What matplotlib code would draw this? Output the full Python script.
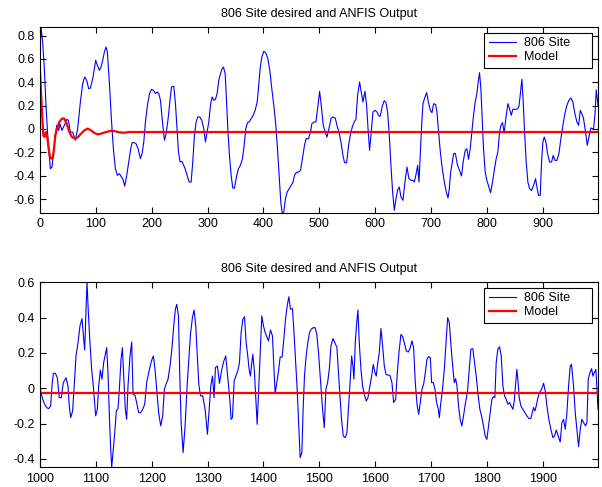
import numpy as np
import matplotlib
matplotlib.use("Agg")
import matplotlib.pyplot as plt

plt.rcParams['font.family'] = ['Liberation Sans', 'DejaVu Sans']
plt.rcParams['axes.unicode_minus'] = False

TITLE = "806 Site desired and ANFIS Output"
LABELS = ["806 Site", "Model"]

# measured series, samples 0..999 (top) and 1000..1999 (bottom)
site_top = [
    (0, 0.65), (1.8, 0.877), (4.8, 0.745), (7.8, 0.517), (10.8, 0.20), (13.8, -0.05),
    (16.7, -0.226), (18.5, -0.34), (21.5, -0.327), (23.9, -0.21), (26.9, -0.083),
    (29.9, 0.031), (33.5, -0.012), (35.8, 0.045), (39.4, -0.012), (43.6, 0.031),
    (48.4, 0.083), (50.8, 0.074), (54.4, -0.026), (58.5, -0.026), (63.3, -0.097),
    (67.5, 0.003), (72.3, 0.231), (76.5, 0.388), (80.0, 0.445), (83.6, 0.417),
    (87.2, 0.345), (90.2, 0.351), (94.4, 0.431), (97.4, 0.517), (99.8, 0.588),
    (102.7, 0.545), (106.3, 0.503), (109.3, 0.531), (112.3, 0.588), (115.3, 0.660),
    (118.3, 0.703), (120.6, 0.660), (124.2, 0.403), (127.8, 0.089), (131.4, -0.169),
    (135.0, -0.340), (138.6, -0.397), (142.2, -0.383), (145.8, -0.411), (148.2, -0.426),
    (151.7, -0.489), (155.3, -0.397), (158.9, -0.283), (162.5, -0.169), (164.9, -0.117),
    (168.4, -0.117), (172.0, -0.126), (175.6, -0.169), (179.8, -0.254), (182.8, -0.211),
    (185.8, -0.111), (188.8, 0.060), (192.4, 0.203), (196.0, 0.303), (199.6, 0.340),
    (203.1, 0.331), (206.7, 0.303), (209.7, 0.317), (212.7, 0.303), (215.7, 0.246),
    (218.7, 0.089), (222.8, -0.097), (225.8, -0.040), (229.4, 0.089), (232.4, 0.231),
    (235.4, 0.360), (239.5, 0.366), (242.5, 0.22), (245.0, 0.03), (247.9, -0.197),
    (250.9, -0.283), (253.8, -0.277), (256.8, -0.306), (259.8, -0.340), (263.4, -0.397),
    (267.0, -0.454), (270.6, -0.454), (273.5, -0.283), (276.5, -0.054), (279.5, 0.060),
    (282.5, 0.103), (286.1, 0.103), (289.7, 0.074), (293.2, 0.003), (296.2, -0.111),
    (299.2, -0.026), (302.2, 0.060), (305.2, 0.203), (308.2, 0.274), (311.2, 0.246),
    (314.1, 0.254), (317.1, 0.303), (320.1, 0.417), (323.1, 0.474), (326.1, 0.517),
    (328.5, 0.531), (331.5, 0.474), (333.8, 0.260), (336.2, 0.003), (339.2, -0.226),
    (342.2, -0.397), (345.2, -0.506), (348.2, -0.506), (351.7, -0.411), (355.3, -0.340),
    (358.9, -0.311), (362.5, -0.254), (365.5, -0.140), (368.5, 0.003), (371.5, 0.054),
    (374.4, 0.060), (378.0, 0.089), (381.6, 0.117), (385.2, 0.160), (388.8, 0.231),
    (391.1, 0.345), (394.1, 0.517), (397.1, 0.617), (400.7, 0.665), (404.3, 0.651),
    (407.9, 0.603), (411.4, 0.503), (415.0, 0.345), (418.6, 0.203), (422.2, 0.031),
    (425.2, -0.169), (428.2, -0.397), (431.1, -0.626), (433.5, -0.717), (436.5, -0.711),
    (439.5, -0.597), (442.5, -0.540), (446.1, -0.511), (449.7, -0.483), (453.2, -0.454),
    (455.6, -0.397), (458.6, -0.374), (462.8, -0.369), (466.4, -0.354), (469.9, -0.254),
    (473.5, -0.140), (476.5, -0.083), (480.7, -0.083), (484.3, -0.026), (486.7, 0.045),
    (490.8, 0.060), (494.0, 0.060), (497.0, 0.174), (500.6, 0.323), (503.5, 0.203),
    (507.1, 0.031), (510.7, -0.026), (513.7, -0.069), (517.3, 0.003), (520.9, 0.089),
    (524.4, 0.103), (528.6, 0.094), (531.6, 0.031), (535.2, -0.026), (538.8, -0.111),
    (542.3, -0.226), (545.3, -0.289), (548.9, -0.289), (552.5, -0.140), (555.5, -0.054),
    (559.1, 0.017), (562.6, 0.060), (565.6, 0.083), (568.6, 0.289), (572.2, 0.403),
    (574.6, 0.331), (578.2, 0.231), (581.7, 0.323), (584.7, 0.203), (587.7, -0.026),
    (590.1, -0.183), (592.5, -0.054), (596.1, 0.146), (599.7, 0.160), (603.2, 0.146),
    (606.8, 0.111), (609.2, 0.111), (612.8, 0.197), (616.4, 0.243), (619.4, 0.226),
    (622.3, 0.146), (625.3, -0.054), (628.3, -0.311), (631.3, -0.540), (634.3, -0.697),
    (637.3, -0.597), (640.2, -0.526), (643.2, -0.497), (646.2, -0.583), (649.8, -0.611),
    (653.4, -0.454), (657.0, -0.326), (660.5, -0.426), (664.1, -0.440), (667.7, -0.440),
    (670.1, -0.454), (673.1, -0.391), (676.1, -0.311), (678.5, -0.454), (680.8, -0.226),
    (683.2, 0.031), (685.6, 0.217), (689.2, 0.274), (692.2, 0.311), (695.2, 0.231),
    (698.8, 0.160), (701.7, 0.140), (704.7, 0.217), (708.3, 0.209), (710.7, 0.146),
    (713.1, 0.003), (716.7, -0.197), (720.2, -0.340), (723.8, -0.454), (727.4, -0.540),
    (730.4, -0.591), (732.8, -0.511), (735.2, -0.369), (738.2, -0.283), (740.5, -0.211),
    (743.7, -0.211), (747.5, -0.311), (751.0, -0.354), (754.6, -0.403), (757.6, -0.283),
    (761.2, -0.183), (764.2, -0.169), (767.2, -0.260), (770.2, -0.169), (773.1, -0.026),
    (776.1, 0.117), (779.1, 0.231), (782.1, 0.303), (784.5, 0.403), (786.9, 0.483),
    (789.3, 0.345), (791.6, 0.089), (794.0, -0.169), (797.0, -0.369), (800.0, -0.440),
    (803.6, -0.497), (806.6, -0.546), (810.2, -0.454), (813.7, -0.340), (816.7, -0.254),
    (819.7, -0.197), (822.7, -0.026), (825.1, 0.031), (828.1, 0.054), (831.0, -0.034),
    (834.0, 0.089), (837.6, 0.217), (840.6, 0.174), (843.6, 0.117), (846.6, 0.169),
    (850.1, 0.169), (853.7, 0.169), (857.3, 0.189), (859.7, 0.289), (862.7, 0.426),
    (865.1, 0.231), (867.5, -0.026), (870.4, -0.283), (873.4, -0.454), (876.4, -0.511),
    (880.0, -0.526), (883.6, -0.483), (887.2, -0.426), (890.1, -0.511), (892.5, -0.569),
    (895.5, -0.569), (897.9, -0.283), (900.3, -0.111), (902.7, -0.069), (905.7, -0.111),
    (908.7, -0.211), (912.2, -0.283), (915.8, -0.283), (918.8, -0.226), (921.8, -0.269),
    (925.4, -0.269), (929.0, -0.211), (932.5, -0.083), (936.1, 0.031), (939.7, 0.131),
    (943.3, 0.203), (946.9, 0.246), (950.4, 0.266), (954.0, 0.231), (957.6, 0.131),
    (961.2, 0.060), (964.2, 0.031), (967.2, 0.160), (970.1, 0.131), (973.1, 0.089),
    (976.7, -0.026), (979.7, -0.140), (982.7, -0.069), (986.3, 0.009), (988.6, 0.003),
    (991.0, 0.003), (993.4, 0.117), (995.8, 0.335), (998.2, 0.231), (999.0, 0.20),
]

model_top = [
    (0, 0.503), (3.0, 0.20), (6.0, -0.054), (8.4, -0.069), (10.8, -0.026), (13.1, -0.069),
    (15.5, -0.169), (17.9, -0.24), (20.3, -0.254), (22.7, -0.254), (25.1, -0.169),
    (27.5, -0.054), (30.5, 0.003), (34.6, 0.060), (39.4, 0.089), (43.6, 0.089),
    (47.8, 0.045), (52.6, -0.026), (57.3, -0.069), (63.3, -0.083), (68.1, -0.069),
    (73.5, -0.040), (79.4, -0.012), (85.4, 0.003), (91.4, -0.012), (97.4, -0.034),
    (103.3, -0.046), (109.3, -0.040), (118.3, -0.026), (127.2, -0.015), (133.2, -0.018),
    (142.2, -0.029), (151.1, -0.032), (160.1, -0.026), (172.0, -0.026), (999.0, -0.026),
]

site_bot = [
    (1000, 0.08), (1001.2, -0.015), (1004.8, -0.062), (1008.4, -0.09), (1012.0, -0.110),
    (1015.5, -0.115), (1019.1, -0.10), (1021.5, 0.013), (1023.9, 0.085), (1027.5, 0.085),
    (1031.0, 0.06), (1034.6, -0.053), (1038.2, -0.053), (1041.8, 0.032), (1046.6, 0.06),
    (1050.1, 0.013), (1052.5, -0.10), (1054.9, -0.166), (1058.5, -0.128), (1061.5, 0.032),
    (1064.5, 0.183), (1068.1, 0.258), (1071.6, 0.353), (1075.2, 0.394), (1077.6, 0.305),
    (1080.0, 0.217), (1082.4, 0.447), (1084.2, 0.603), (1086.6, 0.428), (1089.5, 0.258),
    (1092.5, 0.107), (1095.5, 0.013), (1097.3, -0.062), (1099.7, -0.156), (1102.7, -0.119),
    (1105.1, 0.013), (1108.1, 0.103), (1111.0, 0.051), (1114.0, 0.145), (1117.0, 0.192),
    (1119.4, 0.230), (1121.8, 0.088), (1124.2, -0.156), (1126.6, -0.345), (1128.4, -0.447),
    (1131.3, -0.345), (1134.3, -0.232), (1136.7, -0.128), (1139.7, -0.115), (1142.1, -0.006),
    (1145.1, 0.164), (1147.5, 0.230), (1150.4, 0.032), (1152.8, -0.119), (1155.2, -0.176),
    (1157.6, 0.013), (1161.2, 0.183), (1164.2, 0.262), (1166.6, -0.034), (1170.1, -0.040),
    (1173.1, -0.081), (1176.7, -0.138), (1180.3, -0.138), (1183.9, -0.119), (1187.5, -0.090),
    (1191.0, 0.032), (1194.6, 0.088), (1197.6, 0.130), (1200.6, 0.164), (1203.0, 0.183),
    (1206.0, 0.107), (1208.9, -0.006), (1212.5, -0.138), (1216.1, -0.213), (1219.7, -0.156),
    (1222.7, -0.006), (1225.7, 0.023), (1229.2, 0.051), (1232.8, 0.126), (1236.4, 0.230),
    (1239.4, 0.353), (1242.4, 0.447), (1244.9, 0.475), (1247.9, 0.409), (1250.3, 0.069),
    (1252.7, -0.194), (1256.2, -0.364), (1259.8, -0.213), (1263.4, 0.013), (1266.4, 0.164),
    (1269.4, 0.305), (1272.9, 0.400), (1275.9, 0.443), (1278.9, 0.353), (1281.3, 0.202),
    (1284.3, 0.023), (1287.3, -0.043), (1291.4, -0.043), (1295.6, -0.119), (1299.8, -0.260),
    (1302.8, -0.119), (1305.8, 0.013), (1308.8, 0.069), (1311.7, -0.053), (1314.1, 0.117),
    (1317.7, 0.126), (1321.3, 0.028), (1325.5, 0.107), (1329.1, 0.154), (1332.6, 0.183),
    (1336.2, 0.060), (1339.8, -0.062), (1342.2, -0.176), (1344.6, -0.166), (1347.6, 0.041),
    (1350.6, 0.069), (1354.1, 0.098), (1357.1, 0.145), (1360.1, 0.315), (1363.1, 0.390),
    (1366.1, 0.405), (1369.1, 0.258), (1372.0, 0.183), (1374.4, 0.107), (1376.8, 0.069),
    (1379.2, 0.145), (1381.0, 0.192), (1384.0, 0.088), (1386.4, -0.062), (1388.8, -0.204),
    (1391.7, 0.013), (1394.7, 0.239), (1397.1, 0.409), (1400.1, 0.353), (1403.1, 0.315),
    (1406.7, 0.287), (1409.1, 0.268), (1412.6, 0.330), (1416.2, 0.296), (1418.6, 0.126),
    (1421.0, -0.028), (1424.0, 0.032), (1427.0, 0.098), (1430.0, 0.177), (1433.5, 0.177),
    (1436.5, 0.277), (1439.5, 0.390), (1442.5, 0.466), (1445.5, 0.518), (1448.5, 0.447),
    (1452.0, 0.451), (1454.4, 0.334), (1457.4, 0.164), (1460.4, -0.006), (1462.8, -0.176),
    (1465.8, -0.393), (1468.8, -0.364), (1471.1, -0.119), (1473.5, 0.069), (1476.5, 0.183),
    (1479.5, 0.258), (1482.5, 0.315), (1485.5, 0.334), (1489.1, 0.343), (1492.6, 0.343),
    (1495.6, 0.305), (1498.6, 0.202), (1500.5, 0.12), (1503.0, 0.013), (1505.9, -0.119),
    (1508.9, -0.223), (1511.9, -0.006), (1514.9, 0.032), (1517.9, 0.107), (1520.9, 0.239),
    (1524.4, 0.281), (1528.0, 0.258), (1531.6, 0.230), (1534.0, 0.107), (1537.0, -0.043),
    (1539.9, -0.176), (1542.9, -0.270), (1546.5, -0.279), (1549.5, -0.251), (1552.5, -0.100),
    (1555.5, 0.051), (1557.9, 0.183), (1560.3, 0.126), (1562.0, 0.051), (1564.4, 0.258),
    (1566.8, 0.362), (1569.2, 0.443), (1571.6, 0.258), (1574.6, 0.107), (1577.6, 0.013),
    (1580.6, -0.034), (1584.1, -0.072), (1587.1, -0.053), (1590.7, 0.013), (1593.7, 0.069),
    (1596.7, 0.135), (1599.7, 0.088), (1602.0, 0.069), (1604.4, 0.135), (1607.4, 0.202),
    (1610.4, 0.338), (1613.4, 0.239), (1616.4, 0.126), (1619.4, 0.079), (1622.9, 0.075),
    (1626.5, 0.073), (1630.1, 0.032), (1633.1, -0.081), (1636.7, -0.062), (1639.7, 0.088),
    (1642.6, 0.202), (1646.2, 0.305), (1649.2, 0.292), (1652.2, 0.258), (1655.8, 0.211),
    (1659.4, 0.205), (1662.9, 0.230), (1665.9, 0.268), (1668.9, 0.230), (1671.9, 0.032),
    (1674.9, -0.090), (1677.9, -0.147), (1680.8, -0.081), (1683.8, -0.006), (1686.8, 0.023),
    (1689.8, 0.088), (1692.8, 0.164), (1695.8, 0.179), (1698.8, 0.173), (1701.1, 0.032),
    (1704.1, 0.032), (1707.1, -0.006), (1710.1, -0.081), (1713.1, -0.119), (1714.9, -0.166),
    (1717.3, -0.090), (1720.3, -0.015), (1723.8, 0.107), (1726.8, 0.258), (1729.8, 0.400),
    (1732.8, 0.371), (1735.8, 0.239), (1738.8, 0.126), (1741.7, 0.032), (1744.1, 0.054),
    (1746.5, 0.013), (1749.3, -0.100), (1752.2, -0.176), (1755.2, -0.213), (1758.2, -0.156),
    (1761.8, -0.081), (1765.4, -0.015), (1768.4, 0.107), (1771.3, 0.221), (1774.9, 0.224),
    (1777.9, 0.145), (1780.9, 0.069), (1784.5, -0.043), (1787.5, -0.119), (1790.4, -0.156),
    (1794.0, -0.213), (1797.0, -0.270), (1800.0, -0.289), (1803.0, -0.213), (1806.0, -0.138),
    (1809.0, -0.062), (1811.9, -0.047), (1814.3, -0.053), (1816.7, 0.145), (1819.7, 0.221),
    (1822.7, 0.235), (1825.7, 0.183), (1828.7, 0.013), (1831.6, -0.043), (1834.6, -0.062),
    (1837.6, -0.090), (1840.6, -0.081), (1843.6, -0.100), (1846.6, -0.119), (1849.0, -0.072),
    (1851.3, 0.013), (1853.7, 0.107), (1855.5, 0.051), (1857.9, -0.053), (1860.9, -0.100),
    (1864.5, -0.119), (1868.1, -0.138), (1871.6, -0.156), (1875.2, -0.171), (1878.8, -0.171),
    (1881.2, -0.138), (1883.6, -0.109), (1886.0, -0.128), (1888.4, -0.100), (1890.7, -0.062),
    (1894.3, -0.024), (1897.9, -0.006), (1901.5, 0.028), (1904.5, -0.015), (1907.5, -0.100),
    (1911.0, -0.176), (1914.6, -0.232), (1918.2, -0.279), (1921.2, -0.270), (1924.2, -0.236),
    (1927.8, -0.270), (1931.3, -0.304), (1934.3, -0.194), (1937.3, -0.176), (1940.3, -0.232),
    (1943.3, -0.138), (1946.3, 0.013), (1949.3, 0.126), (1951.5, 0.136), (1955.2, 0.013),
    (1958.2, -0.138), (1961.2, -0.232), (1964.2, -0.330), (1967.2, -0.232), (1970.1, -0.176),
    (1973.1, -0.194), (1976.7, -0.213), (1979.1, -0.194), (1981.5, 0.051), (1984.5, 0.088),
    (1987.5, 0.111), (1989.9, 0.069), (1992.2, 0.088), (1995.2, 0.107), (1998.2, -0.081),
    (1999.0, -0.12),
]

model_bot = [(1000, -0.028), (1999, -0.028)]

top_yticks = [-0.6, -0.4, -0.2, 0, 0.2, 0.4, 0.6, 0.8]
bot_yticks = [-0.4, -0.2, 0, 0.2, 0.4, 0.6]


def fmt(v):
    return "0" if v == 0 else ("%g" % v)


fig = plt.figure(figsize=(6.02, 4.87), dpi=100)
ax1 = fig.add_axes([0.0664, 0.5633, 0.927, 0.382])
ax2 = fig.add_axes([0.0664, 0.0405, 0.927, 0.381])

panels = [
    (ax1, site_top, model_top, (0, 999), (-0.717, 0.877), range(0, 1000, 100), top_yticks),
    (ax2, site_bot, model_bot, (1000, 1999), (-0.447, 0.603), range(1000, 2000, 100), bot_yticks),
]

for ax, site, model, xl, yl, xt, yt in panels:
    s = np.array(site)
    m = np.array(model)
    ax.plot(s[:, 0], s[:, 1], color="blue", lw=0.8, label=LABELS[0])
    ax.plot(m[:, 0], m[:, 1], color="red", lw=1.6, label=LABELS[1])
    ax.set_xlim(*xl)
    ax.set_ylim(*yl)
    ax.set_xticks(list(xt))
    ax.set_yticks(yt)
    ax.set_yticklabels([fmt(v) for v in yt])
    ax.tick_params(direction="in", length=4, width=0.8, top=True, right=True,
                   labelsize=9, pad=4)
    for sp in ax.spines.values():
        sp.set_linewidth(0.8)
    ax.set_title(TITLE, fontsize=9, pad=7)
    # legend box spans a fixed region in the upper right, like the original
    leg = ax.legend(loc="upper left", bbox_to_anchor=(0.796, 0.966, 0.193, 0.0),
                    mode="expand", fontsize=9, fancybox=False, framealpha=1,
                    edgecolor="black", borderaxespad=0.0, handlelength=2.2,
                    labelspacing=0.15, borderpad=0.35, handletextpad=0.6)
    leg.get_frame().set_linewidth(0.8)

fig.savefig("out.png", dpi=100)
